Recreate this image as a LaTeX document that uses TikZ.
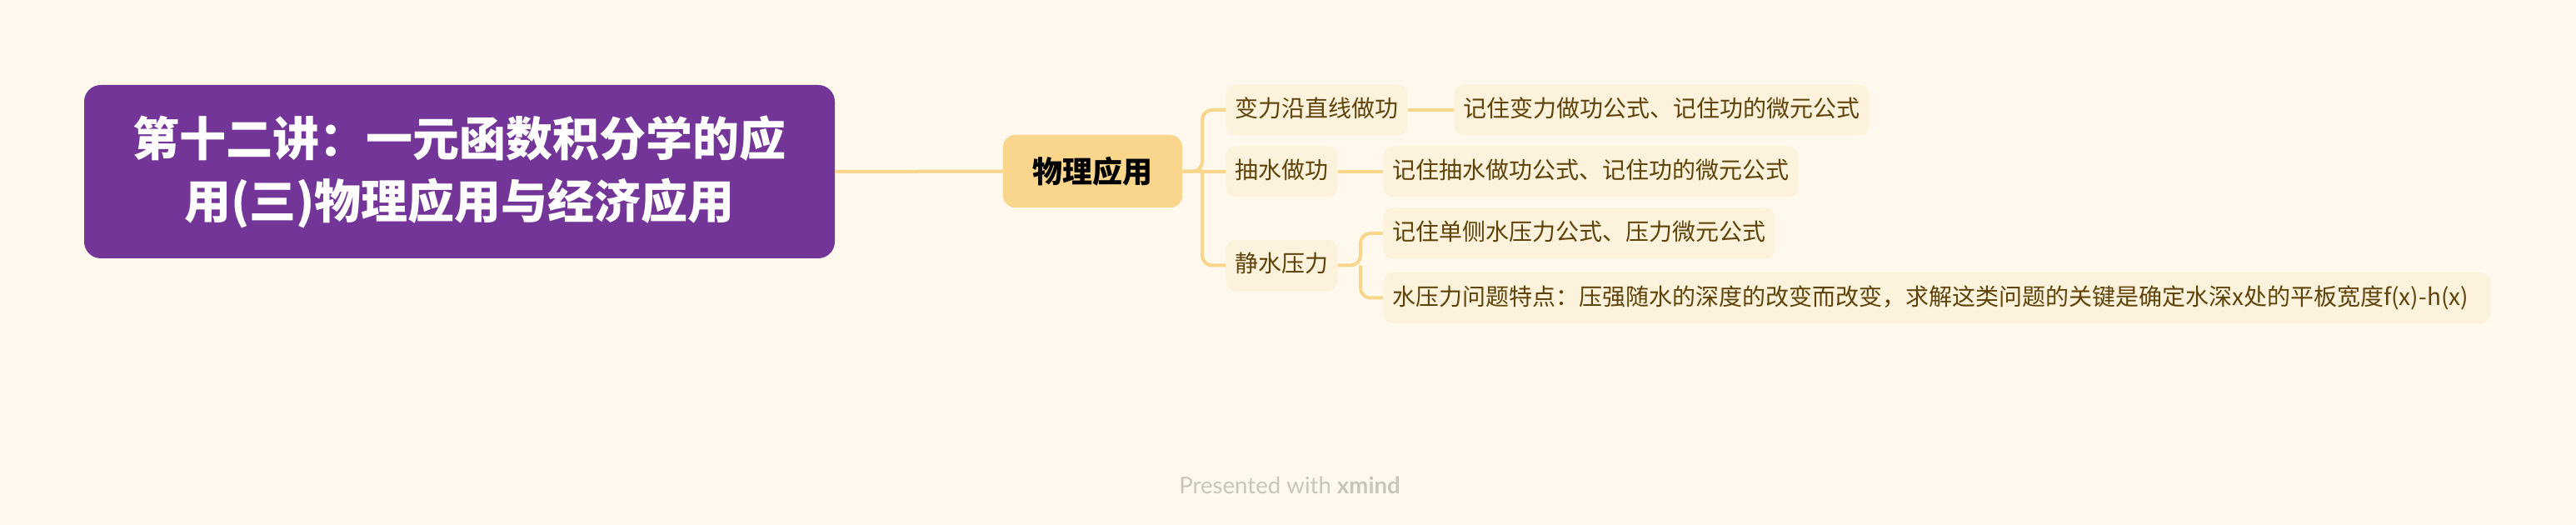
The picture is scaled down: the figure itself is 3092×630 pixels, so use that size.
\documentclass[tikz,border=0pt]{standalone}
\usepackage{fontspec}
\setmainfont{Lato}
\newfontfamily\cjk{Noto Sans CJK SC}
\definecolor{bg}{RGB}{254,249,236}
\definecolor{rootfill}{RGB}{116,53,153}
\definecolor{mainfill}{RGB}{250,214,140}
\definecolor{subfill}{RGB}{253,242,219}
\definecolor{linec}{RGB}{249,214,140}
\definecolor{subtext}{RGB}{94,66,8}
\definecolor{foot}{RGB}{200,198,188}
\tikzset{
  rootbox/.style={fill=rootfill,rounded corners=10pt,minimum width=450.5pt,minimum height=104pt,inner sep=0pt,align=center,text=white,font=\cjk\bfseries\fontsize{28}{37.5}\selectfont},
  mainbox/.style={fill=mainfill,rounded corners=7pt,minimum width=107.5pt,minimum height=43.5pt,inner sep=0pt,font=\cjk\bfseries\fontsize{18}{22}\selectfont,text=black},
  subbox/.style={fill=subfill,rounded corners=6pt,minimum height=30.5pt,inner xsep=5.5pt,inner ysep=0pt,anchor=west,font=\cjk\fontsize{14}{17}\selectfont,text=subtext,text height=11pt,text depth=2.5pt},
  conn/.style={draw=linec,line width=2pt,rounded corners=6pt},
}
\begin{document}
\begin{tikzpicture}[x=0.5pt,y=-0.5pt]
\fill[bg] (0,0) rectangle (3092,630);
\useasboundingbox (0,0) rectangle (3092,630);
\node[rootbox] (root) at (551.5,206) {第十二讲：一元函数积分学的应\\用(三)物理应用与经济应用};
\node[mainbox] (main) at (1311.5,205.5) {物理应用};
\node[subbox] (b1) at (1471,132) {变力沿直线做功};
\node[subbox] (b2) at (1471,206) {抽水做功};
\node[subbox] (b3) at (1471,318.5) {静水压力};
\node[subbox] (l1) at (1745,132) {记住变力做功公式、记住功的微元公式};
\node[subbox] (l2) at (1660,206) {记住抽水做功公式、记住功的微元公式};
\node[subbox] (l3a) at (1660,280) {记住单侧水压力公式、压力微元公式};
\node[subbox,text width=653.5pt,align=left] (l3b) at (1660,357.5) {水压力问题特点：压强随水的深度的改变而改变，求解这类问题的关键是确定水深x处的平板宽度f(x)-h(x)};
\coordinate (t1) at (1443,206);
\coordinate (t2) at (1633,318.5);
\draw[conn] (root.east) -- (main.west);
\draw[conn] (main.east) -- (t1) |- (b1.west);
\draw[conn] (main.east) -- (b2.west);
\draw[conn] (t1) |- (b3.west);
\draw[conn] (b1.east) -- (l1.west);
\draw[conn] (b2.east) -- (l2.west);
\draw[conn] (b3.east) -- (t2) |- (l3a.west);
\draw[conn] (t2) |- (l3b.west);
\node[font=\fontsize{13.8}{16}\selectfont,text=foot] (footer) at (1548,582) {Presented with \textbf{xmind}};
\end{tikzpicture}
\end{document}
